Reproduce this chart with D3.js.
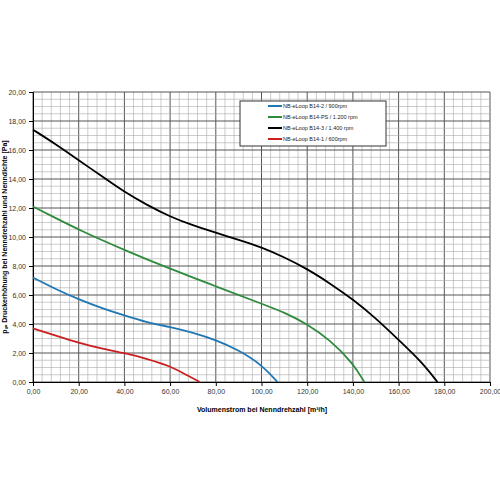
<!DOCTYPE html>
<html><head><meta charset="utf-8">
<script src="https://cdn.jsdelivr.net/npm/d3@7"></script>
<style>body{margin:0;background:#fff}text{font-family:Arial,"Liberation Sans",sans-serif}</style>
</head><body><svg width="500" height="500"></svg>
<script>
const blueX = [0,10,20,30,40,50,60,70,80,90,100,107];
const blueY = [7.2,6.4,5.7,5.1,4.6,4.1,3.8,3.4,2.9,2.2,1.2,0];
const greenX = [0,10,20,40,60,80,100,110,120,130,140,145];
const greenY = [12.1,11.3,10.5,9.1,7.8,6.6,5.4,4.8,4.0,2.9,1.3,0];
const blackX = [0,10,20,30,40,50,60,70,80,90,100,110,120,130,140,150,160,170,177];
const blackY = [17.4,16.4,15.3,14.2,13.1,12.2,11.4,10.8,10.3,9.8,9.3,8.6,7.8,6.8,5.7,4.4,2.9,1.4,0];
const redX = [0,10,20,30,40,50,60,67,73];
const redY = [3.7,3.2,2.7,2.3,2.0,1.6,1.1,0.5,0];
const series = [
  {name:"NB-eLoop B14-2 / 900rpm", color:"#1f77b4", x:blueX, y:blueY},
  {name:"NB-eLoop B14-PS / 1.200 rpm", color:"#2e8b3e", x:greenX, y:greenY},
  {name:"NB-eLoop B14-3 / 1.400 rpm", color:"#000000", x:blackX, y:blackY},
  {name:"NB-eLoop B14-1 / 600rpm", color:"#cc1f1f", x:redX, y:redY}
];
const fmt = v => d3.format(".2f")(v).replace(".", ",");

const svg = d3.select("svg");
const x = d3.scaleLinear().domain([0,200]).range([33,490]);
const y = d3.scaleLinear().domain([0,20]).range([382,92]);

// grid
const g = svg.append("g");
g.selectAll(".vx").data(d3.range(0,201,4)).enter().append("line")
  .attr("x1",d=>x(d)).attr("x2",d=>x(d)).attr("y1",y(0)).attr("y2",y(20))
  .attr("stroke",d=>d%20===0?"#555":"#aaa").attr("stroke-width",d=>d%20===0?1:0.6);
g.selectAll(".hy").data(d3.range(0,20.01,0.5)).enter().append("line")
  .attr("y1",d=>y(d)).attr("y2",d=>y(d)).attr("x1",x(0)).attr("x2",x(200))
  .attr("stroke",d=>d%2===0?"#555":"#aaa").attr("stroke-width",d=>d%2===0?1:0.6);

svg.append("g").attr("transform",`translate(0,${y(0)})`)
  .call(d3.axisBottom(x).tickValues(d3.range(0,201,20)).tickFormat(fmt).tickSize(4))
  .call(a=>a.selectAll("text").attr("font-size",7).attr("fill","#333"));
svg.append("g").attr("transform",`translate(${x(0)},0)`)
  .call(d3.axisLeft(y).tickValues(d3.range(0,21,2)).tickFormat(fmt).tickSize(4))
  .call(a=>a.selectAll("text").attr("font-size",7).attr("fill","#333"));

const line = d3.line().curve(d3.curveBasis);
series.forEach(s=>{
  svg.append("path").datum(s.x.map((v,i)=>[x(v),y(s.y[i])]))
    .attr("d",line).attr("fill","none").attr("stroke",s.color).attr("stroke-width",1.8);
});

// legend
const lg = svg.append("g");
lg.append("rect").attr("x",240).attr("y",101).attr("width",146).attr("height",45)
  .attr("fill","#fff").attr("stroke","#333");
series.forEach((s,i)=>{
  const yy = 106 + i*11;
  lg.append("line").attr("x1",268).attr("x2",282).attr("y1",yy).attr("y2",yy)
    .attr("stroke",s.color).attr("stroke-width",2);
  lg.append("text").attr("x",283).attr("y",yy+2).attr("font-size",5.5).attr("fill","#222").text(s.name);
});

svg.append("text").attr("x",262).attr("y",412).attr("text-anchor","middle")
  .attr("font-size",7).attr("font-weight","bold").text("Volumenstrom bei Nenndrehzahl [m³/h]");
svg.append("text").attr("transform","translate(7,237) rotate(-90)").attr("text-anchor","middle")
  .attr("font-size",7).attr("font-weight","bold").text("pₛₐ Druckerhöhung bei Nenndrehzahl und Nenndichte [Pa]");
</script></body></html>
